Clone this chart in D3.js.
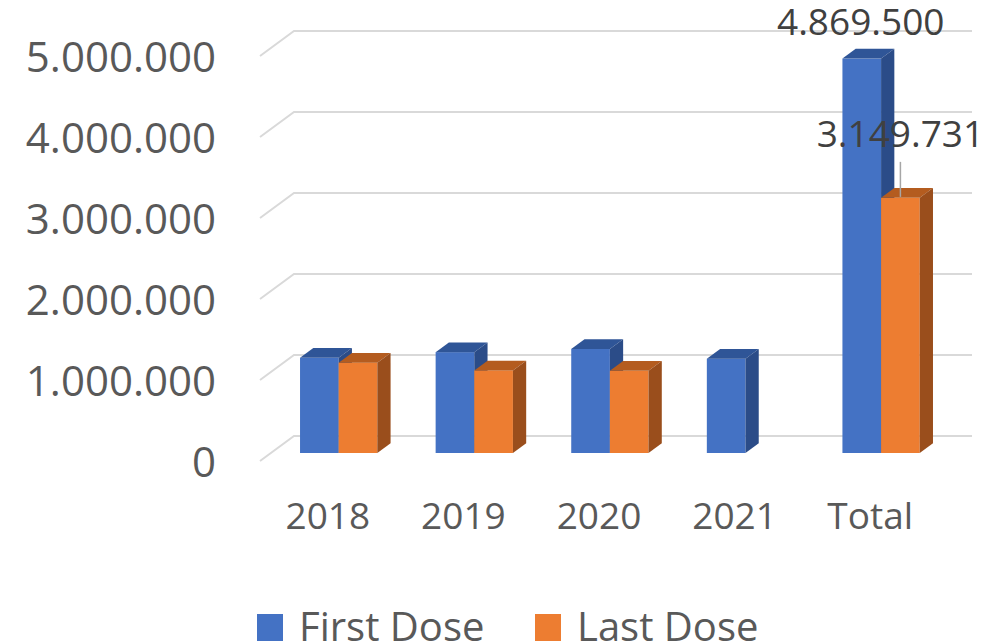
<!DOCTYPE html>
<html><head><meta charset="utf-8">
<script src="https://cdn.jsdelivr.net/npm/d3@7"></script>
<style>body{margin:0;background:#fff} svg{display:block}</style>
</head><body>
<script>
const categories = ["2018","2019","2020","2021","Total"];
const seriesNames = ["First Dose","Last Dose"];
const firstDose = [1175000,1245000,1285000,1164500,4869500];
const lastDose = [1115000,1020000,1014731,null,3149731];
const yTicks = [0,1000000,2000000,3000000,4000000,5000000];
const labelCategory = "Total";

const W = 1003, H = 644;
const FONT = "'Open Sans', sans-serif";
const TEXT = "#595959";
const frontColors = ["#4472C4","#ED7D31"];
const topColors = ["#2F5597","#B45C1F"];
const sideColors = ["#2B4C88","#9A4E1C"];

const depth = {dx:34, dy:-25};
const f0 = 0.32, f1 = 0.71;

const svg = d3.select("body").append("svg").attr("width",W).attr("height",H);

const x = d3.scaleBand().domain(categories).range([260,938]).paddingInner(0.43).paddingOuter(0.215);
const xs = d3.scaleBand().domain(seriesNames).range([0,x.bandwidth()]);
const y = d3.scaleLinear().domain([0,5000000]).range([461,56]);

const fmt = d3.formatLocale({decimal:",",thousands:".",grouping:[3],currency:["",""]}).format(",d");

// gridlines (wall + floor)
svg.append("g").selectAll("path").data(yTicks).join("path")
  .attr("d", t => `M${x.range()[0]},${y(t)} L${x.range()[0]+depth.dx},${y(t)+depth.dy} L${x.range()[1]+depth.dx},${y(t)+depth.dy}`)
  .attr("fill","none").attr("stroke","#d9d9d9").attr("stroke-width",2);

// y axis
const yAxis = svg.append("g").attr("transform","translate(260,2)")
  .call(d3.axisLeft(y).tickValues(yTicks).tickSize(0).tickPadding(44).tickFormat(fmt));
yAxis.select(".domain").remove();
yAxis.selectAll("text").attr("font-family",FONT).attr("font-size",42).attr("fill",TEXT);

// x axis
const xAxis = svg.append("g").attr("transform","translate(0,529)")
  .call(d3.axisBottom(x).tickSize(0).tickPadding(0));
xAxis.select(".domain").remove();
xAxis.selectAll("text").attr("y",0).attr("dy",0).attr("font-family",FONT).attr("font-size",37).attr("fill",TEXT);

// bars
const bars = [];
categories.forEach((c,i) => {
  [firstDose[i], lastDose[i]].forEach((v,s) => {
    if (v == null) return;
    bars.push({c, s, v});
  });
});
const ddx = depth.dx*(f1-f0), ddy = depth.dy*(f1-f0);
const g = svg.append("g");
bars.forEach(b => {
  const bw = xs.bandwidth();
  const X0 = x(b.c) + xs(seriesNames[b.s]) + depth.dx*f0;
  const Yt = y(b.v) + depth.dy*f0;
  const Yb = y(0) + depth.dy*f0;
  const bg = g.append("g");
  bg.append("rect").attr("x",X0).attr("y",Yt).attr("width",bw).attr("height",Yb-Yt).attr("fill",frontColors[b.s]);
  bg.append("path").attr("d",`M${X0},${Yt} L${X0+bw},${Yt} L${X0+bw+ddx},${Yt+ddy} L${X0+ddx},${Yt+ddy} Z`).attr("fill",topColors[b.s]);
  bg.append("path").attr("d",`M${X0+bw},${Yt} L${X0+bw+ddx},${Yt+ddy} L${X0+bw+ddx},${Yb+ddy} L${X0+bw},${Yb} Z`).attr("fill",sideColors[b.s]);
});

// data labels for Total
const li = categories.indexOf(labelCategory);
{
  const cx = x(labelCategory) + xs(seriesNames[0]) + xs.bandwidth()/2 + depth.dx*f0;
  const top = y(firstDose[li]) + depth.dy*f0;
  svg.append("text").attr("x",cx-1).attr("y",top-24).attr("text-anchor","middle")
    .attr("font-family",FONT).attr("font-size",37).attr("fill","#404040").text(fmt(firstDose[li]));
}
{
  const cx = x(labelCategory) + xs(seriesNames[1]) + xs.bandwidth()/2 + depth.dx*f0;
  const top = y(lastDose[li]) + depth.dy*f0;
  svg.append("line").attr("x1",cx).attr("x2",cx).attr("y1",top-36).attr("y2",top-1)
    .attr("stroke","#a6a6a6").attr("stroke-width",1.5);
  svg.append("text").attr("x",cx).attr("y",top-51).attr("text-anchor","middle")
    .attr("font-family",FONT).attr("font-size",37).attr("fill","#404040").text(fmt(lastDose[li]));
}

// legend
const legendX = [257, 535];
const lg = svg.append("g");
seriesNames.forEach((n,i) => {
  lg.append("rect").attr("x",legendX[i]).attr("y",614).attr("width",26).attr("height",27).attr("fill",frontColors[i]);
  lg.append("text").attr("x",legendX[i]+42).attr("y",641).attr("font-family",FONT).attr("font-size",40).attr("fill",TEXT).text(n);
});
</script>
</body></html>
